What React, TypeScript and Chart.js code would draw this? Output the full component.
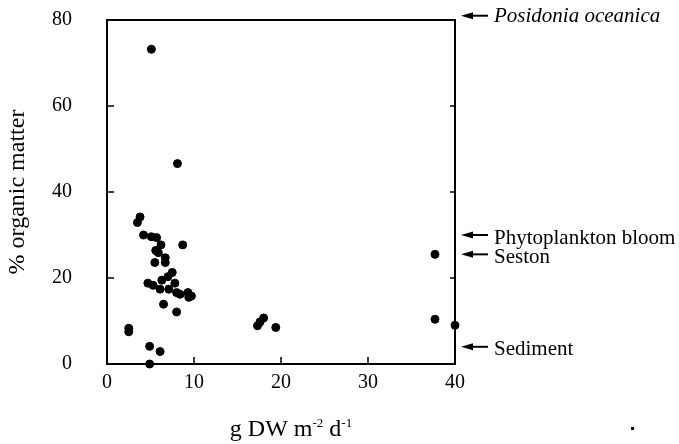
import React, { useEffect, useRef } from "react";
import { Chart, registerables } from "chart.js";

Chart.register(...registerables);

const xValues = [5.1, 8.1, 3.8, 3.5, 4.2, 5.1, 5.7, 6.2, 8.7, 5.6, 5.9, 6.7, 5.5, 6.7, 7.5, 4.7, 5.3, 6.1, 6.3, 7.0, 7.1, 7.8, 8.0, 8.4, 9.3, 9.7, 9.4, 6.5, 8.0, 2.5, 2.5, 4.9, 6.1, 4.9, 18.0, 17.3, 17.6, 19.4, 37.7, 37.7, 40.0];
const yValues = [73.2, 46.6, 34.2, 32.9, 30.0, 29.6, 29.4, 27.7, 27.7, 26.4, 25.9, 24.7, 23.6, 23.6, 21.3, 18.8, 18.3, 17.4, 19.5, 20.3, 17.4, 18.8, 16.6, 16.2, 16.6, 15.8, 15.5, 13.9, 12.1, 8.3, 7.5, 4.1, 2.9, 0.0, 10.7, 8.9, 9.8, 8.5, 25.5, 10.4, 9.0];

const annotationLabels = ["Posidonia oceanica", "Phytoplankton bloom", "Seston", "Sediment"];
const annotationValues = [81, 30, 25.5, 4];
const annotationItalic = [true, false, false, false];

const yTickValues = [0, 20, 40, 60, 80];
const xTickValues = [0, 10, 20, 30, 40];

const SERIF = "'Liberation Serif', 'Times New Roman', serif";

export default function App() {
  const canvasRef = useRef<HTMLCanvasElement | null>(null);

  useEffect(() => {
    document.body.style.margin = "0";
    const canvas = canvasRef.current;
    if (!canvas) return;

    const decorPlugin = {
      id: "decor",
      afterDraw(chart: any) {
        const ctx = chart.ctx;
        const { left, right, top, bottom } = chart.chartArea;
        const xs = chart.scales.x;
        const ys = chart.scales.y;
        ctx.save();
        ctx.strokeStyle = "#000";
        ctx.fillStyle = "#000";
        // frame
        ctx.lineWidth = 2;
        ctx.strokeRect(left, top, right - left, bottom - top);
        // inner ticks
        ctx.lineWidth = 1.5;
        ctx.beginPath();
        yTickValues.slice(1, -1).forEach((v) => {
          const py = ys.getPixelForValue(v);
          ctx.moveTo(left, py);
          ctx.lineTo(left + 7, py);
          ctx.moveTo(right, py);
          ctx.lineTo(right - 5, py);
        });
        xTickValues.slice(1, -1).forEach((v) => {
          const px = xs.getPixelForValue(v);
          ctx.moveTo(px, bottom);
          ctx.lineTo(px, bottom - 7);
        });
        ctx.stroke();

        // annotations on the right
        annotationLabels.forEach((label, i) => {
          const py = ys.getPixelForValue(annotationValues[i]);
          ctx.lineWidth = 2;
          ctx.beginPath();
          ctx.moveTo(488, py);
          ctx.lineTo(470, py);
          ctx.stroke();
          ctx.beginPath();
          ctx.moveTo(461, py);
          ctx.lineTo(473, py - 3.5);
          ctx.lineTo(473, py + 3.5);
          ctx.closePath();
          ctx.fill();
          ctx.font = (annotationItalic[i] ? "italic " : "") + "21px " + SERIF;
          ctx.textAlign = "left";
          ctx.textBaseline = "middle";
          ctx.fillText(label, 494, py + (i === 0 ? 1 : 3));
        });

        // x axis title with superscripts
        const parts: [string, boolean][] = [
          ["g DW m", false],
          ["-2", true],
          [" d", false],
          ["-1", true],
        ];
        const big = "24px " + SERIF;
        const small = "13px " + SERIF;
        let total = 0;
        parts.forEach(([t, sup]) => {
          ctx.font = sup ? small : big;
          total += ctx.measureText(t).width;
        });
        let cx = 291 - total / 2;
        const baseY = 436;
        ctx.textBaseline = "alphabetic";
        parts.forEach(([t, sup]) => {
          ctx.font = sup ? small : big;
          ctx.fillText(t, cx, sup ? baseY - 9 : baseY);
          cx += ctx.measureText(t).width;
        });
        // stray mark
        ctx.fillRect(631, 427, 3, 3);
        ctx.restore();
      },
    };

    const chart = new Chart(canvas, {
      type: "scatter",
      data: {
        datasets: [
          {
            data: xValues.map((x, i) => ({ x, y: yValues[i] })),
            backgroundColor: "#000",
            borderColor: "#000",
            pointRadius: 4,
            pointHoverRadius: 4,
            clip: false as any,
          },
        ],
      },
      options: {
        animation: false,
        responsive: false,
        events: [],
        layout: { padding: { left: 0, right: 224, top: 20, bottom: 0 } },
        plugins: {
          legend: { display: false },
          tooltip: { enabled: false },
        },
        scales: {
          x: {
            type: "linear",
            min: 0,
            max: 40,
            afterFit: (s: any) => {
              s.height = 80;
              s.paddingLeft = 0;
              s.paddingRight = 0;
            },
            afterBuildTicks: (s: any) => {
              s.ticks = xTickValues.map((v) => ({ value: v }));
            },
            grid: { display: false, drawTicks: false },
            border: { display: false },
            ticks: {
              color: "#000",
              padding: 7,
              maxRotation: 0,
              font: { family: SERIF, size: 20 },
            },
          },
          y: {
            type: "linear",
            min: 0,
            max: 80,
            afterFit: (s: any) => {
              s.width = 107;
              s.paddingTop = 0;
              s.paddingBottom = 0;
            },
            afterBuildTicks: (s: any) => {
              s.ticks = yTickValues.map((v) => ({ value: v }));
            },
            grid: { display: false, drawTicks: false },
            border: { display: false },
            ticks: {
              color: "#000",
              padding: 35,
              font: { family: SERIF, size: 20 },
            },
            title: {
              display: true,
              text: "% organic matter",
              color: "#000",
              font: { family: SERIF, size: 24 },
              padding: { top: 3, bottom: 0 },
            },
          },
        },
      },
      plugins: [decorPlugin],
    });

    return () => chart.destroy();
  }, []);

  return (
    <div style={{ position: "fixed", left: 0, top: 0, width: 679, height: 444 }}>
      <canvas ref={canvasRef} width={679} height={444} />
    </div>
  );
}
